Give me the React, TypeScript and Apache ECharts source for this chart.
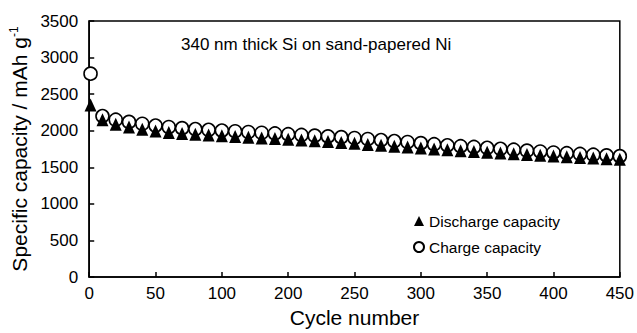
import React, { useEffect, useRef } from "react";
import * as echarts from "echarts";

// Plotted x positions (axis units; the original axis labels skip "150")
const cycles = [1, 10, 20, 30, 40, 50, 60, 70, 80, 90, 100, 110, 120, 130, 140, 150, 160, 170, 180, 190, 200, 210, 220, 230, 240, 250, 260, 270, 280, 290, 300, 310, 320, 330, 340, 350, 360, 370, 380, 390, 400];
const chargeCapacity = [2780, 2200, 2150, 2120, 2095, 2070, 2050, 2035, 2022, 2012, 2002, 1992, 1982, 1972, 1962, 1952, 1942, 1932, 1922, 1912, 1900, 1886, 1872, 1858, 1845, 1830, 1815, 1800, 1788, 1778, 1766, 1752, 1740, 1727, 1715, 1702, 1692, 1682, 1672, 1662, 1652];
const dischargeCapacity = [2350, 2150, 2090, 2050, 2020, 1995, 1977, 1962, 1952, 1942, 1932, 1922, 1912, 1902, 1892, 1882, 1872, 1862, 1852, 1840, 1827, 1813, 1800, 1787, 1776, 1762, 1751, 1740, 1726, 1716, 1706, 1695, 1685, 1675, 1665, 1655, 1645, 1635, 1626, 1618, 1610];
const xTickLabels = ["0", "50", "100", "200", "250", "300", "350", "400", "450"];
const yTicks = [0, 500, 1000, 1500, 2000, 2500, 3000, 3500];

const FONT = "'Liberation Sans', Arial, Helvetica, sans-serif";

export default function App() {
  const ref = useRef<HTMLDivElement>(null);
  useEffect(() => {
    if (!ref.current) return;
    const chart = echarts.init(ref.current, undefined, { renderer: "svg" });
    const axisLine = { show: true, lineStyle: { color: "#000", width: 1.5 } };
    chart.setOption({
      animation: false,
      backgroundColor: "#fff",
      textStyle: { fontFamily: FONT },
      title: {
        text: "340 nm thick Si on sand-papered Ni",
        left: 181,
        top: 36,
        padding: 0,
        textStyle: { fontFamily: FONT, fontSize: 17, fontWeight: "normal", color: "#000" },
      },
      legend: {
        data: ["Discharge capacity", "Charge capacity"],
        orient: "vertical",
        left: 413,
        top: 213,
        itemWidth: 10,
        itemHeight: 10,
        itemGap: 10,
        padding: 0,
        textStyle: { fontFamily: FONT, fontSize: 15.5, color: "#000" },
      },
      grid: {
        left: 84,
        right: 15,
        top: 21,
        bottom: 52,
        show: true,
        borderColor: "#000",
        borderWidth: 1.5,
        backgroundColor: "transparent",
      },
      xAxis: {
        type: "value",
        min: 0,
        max: 400,
        interval: 50,
        name: "Cycle number",
        nameLocation: "middle",
        nameGap: 30,
        nameTextStyle: { fontFamily: FONT, fontSize: 21, color: "#000" },
        axisLine,
        axisTick: { show: true, inside: true, length: 5, lineStyle: { color: "#000", width: 1.5 } },
        axisLabel: {
          margin: 8,
          fontFamily: FONT,
          fontSize: 17,
          color: "#000",
          formatter: (v: number) => xTickLabels[Math.round(v / 50)] ?? "",
        },
        splitLine: { show: false },
      },
      yAxis: {
        type: "value",
        min: yTicks[0],
        max: yTicks[yTicks.length - 1],
        interval: 500,
        name: "Specific capacity / mAh g{sup|-1}",
        nameLocation: "middle",
        nameGap: 52,
        nameTextStyle: {
          fontFamily: FONT,
          fontSize: 21,
          color: "#000",
          rich: {
            sup: { fontFamily: FONT, fontSize: 12, color: "#000", padding: [0, 0, 10, 0] },
          },
        },
        axisLine,
        axisTick: { show: true, inside: true, length: 5, lineStyle: { color: "#000", width: 1.5 } },
        axisLabel: {
          margin: 11,
          fontFamily: FONT,
          fontSize: 17,
          color: "#000",
          formatter: (v: number) => String(v),
        },
        splitLine: { show: false },
      },
      series: [
        {
          name: "Charge capacity",
          type: "scatter",
          symbol: "circle",
          symbolSize: 13,
          clip: false,
          itemStyle: { color: "#fff", borderColor: "#000", borderWidth: 1.6, opacity: 1 },
          data: cycles.map((c, i) => [c, chargeCapacity[i]]),
        },
        {
          name: "Discharge capacity",
          type: "scatter",
          symbol: "triangle",
          symbolSize: [12, 13],
          clip: false,
          itemStyle: { color: "#000", opacity: 1 },
          data: cycles.map((c, i) => [c, dischargeCapacity[i]]),
        },
      ],
    });
    return () => chart.dispose();
  }, []);
  return (
    <div
      ref={ref}
      style={{ position: "fixed", left: 0, top: 0, width: 637, height: 333 }}
    />
  );
}
